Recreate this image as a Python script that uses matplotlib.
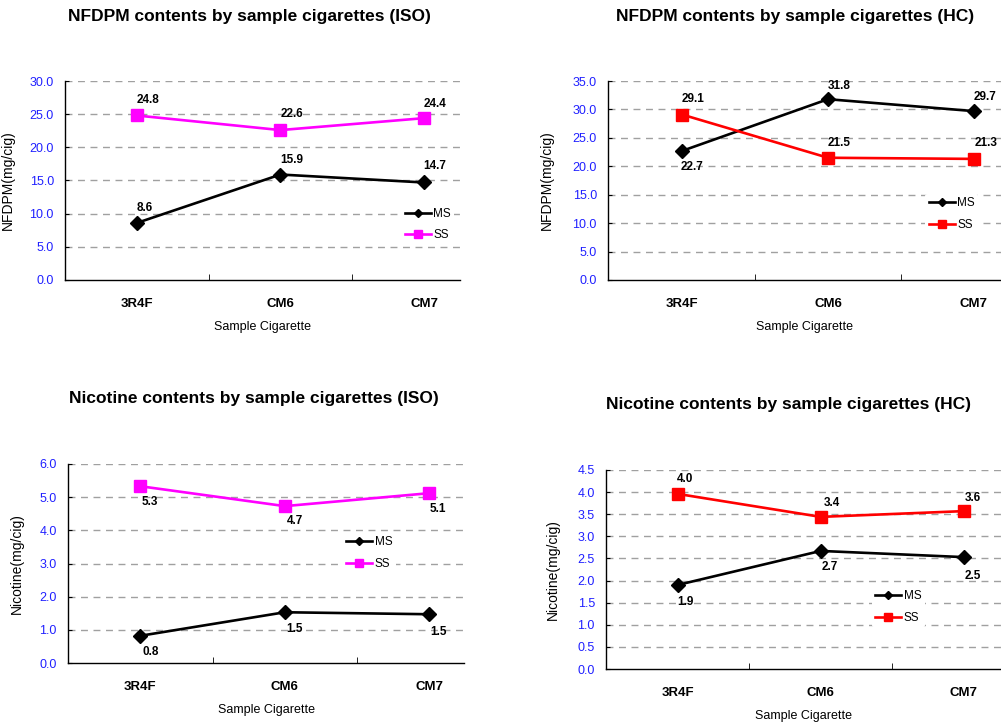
import numpy as np
import matplotlib.pyplot as plt

plt.rcParams['font.family'] = ['Liberation Sans', 'DejaVu Sans']

# sample cigarettes
categories = ['3R4F', 'CM6', 'CM7']

# NFDPM (mg/cig)
nfdpm_iso_ms = [8.6, 15.9, 14.7]
nfdpm_iso_ss = [24.8, 22.6, 24.4]
nfdpm_hc_ms = [22.7, 31.8, 29.7]
nfdpm_hc_ss = [29.1, 21.5, 21.3]

# Nicotine (mg/cig)
nic_iso_ms = [0.82, 1.53, 1.47]
nic_iso_ss = [5.33, 4.73, 5.12]
nic_hc_ms = [1.90, 2.67, 2.53]
nic_hc_ss = [3.96, 3.44, 3.57]

BLUE = '#2020ff'
W, H = 1001, 723


def draw_panel(rect, title, title_xy, ms, ss, ss_color, ylabel, ymax, ystep,
               xlim, ylab_dx, leg_xy, ms_off, ss_off):
    ax = fig.add_axes([rect[0] / W, 1 - rect[3] / H,
                       (rect[2] - rect[0]) / W, (rect[3] - rect[1]) / H])
    x = np.arange(len(categories))
    ax.plot(x, ms, color='black', lw=1.9, marker='D', ms=7, label='MS', zorder=3)
    ax.plot(x, ss, color=ss_color, lw=1.9, marker='s', ms=8.5, label='SS', zorder=3)

    for xi, v, off in zip(x, ms, ms_off):
        ax.annotate(f'{v:.1f}', (xi, v), xytext=off, textcoords='offset pixels',
                    ha='center', va='center', fontsize=8.5, fontweight='bold')
    for xi, v, off in zip(x, ss, ss_off):
        ax.annotate(f'{v:.1f}', (xi, v), xytext=off, textcoords='offset pixels',
                    ha='center', va='center', fontsize=8.5, fontweight='bold')

    ax.set_xlim(*xlim)
    ax.set_ylim(0, ymax)
    yt = np.arange(0, ymax + ystep / 2, ystep)
    ax.set_yticks(yt)
    ax.set_yticklabels([f'{t:.1f}' for t in yt])
    for t in yt[1:]:
        ax.axhline(t, color='#a0a0a0', lw=1, dashes=(5, 4), zorder=1)

    ax.set_xticks(x)
    ax.set_xticklabels(categories, fontsize=9.5, fontweight='bold')
    ax.set_xticks([0.5, 1.5], minor=True)
    ax.tick_params(axis='x', which='major', length=0, pad=13)
    ax.tick_params(axis='x', which='minor', direction='in', length=4, color='black')
    ax.tick_params(axis='y', direction='in', length=3, labelcolor=BLUE,
                   labelsize=9, pad=8)

    for s in ['top', 'right']:
        ax.spines[s].set_visible(False)
    for s in ['left', 'bottom']:
        ax.spines[s].set_linewidth(1)

    ax.set_xlabel('Sample Cigarette', fontsize=9, labelpad=8)
    ax.set_ylabel(ylabel, fontsize=10)
    ax.yaxis.set_label_coords(-ylab_dx / (rect[2] - rect[0]), 0.5)

    leg = ax.legend(loc='center left', bbox_to_anchor=leg_xy, frameon=True,
                    fontsize=8.5, markerscale=0.6, handlelength=2.2,
                    handletextpad=0.2, labelspacing=0.8, borderpad=0.3,
                    borderaxespad=0)
    leg.get_frame().set_facecolor('white')
    leg.get_frame().set_edgecolor('none')
    leg.get_frame().set_alpha(1)

    fig.text(title_xy[0] / W, 1 - title_xy[1] / H, title, ha='center',
             va='center', fontsize=12.5, fontweight='bold')
    return ax


fig = plt.figure(figsize=(10.01, 7.23), dpi=100)

draw_panel((65, 81, 460, 280), 'NFDPM contents by sample cigarettes (ISO)', (249, 16),
           nfdpm_iso_ms, nfdpm_iso_ss, '#ff00ff', 'NFDPM(mg/cig)', 30, 5,
           (-0.5, 2.25), 50, (0.851, 0.279),
           [(8, 15), (11, 15), (11, 16)], [(11, 15), (11, 16), (11, 14)])

draw_panel((608, 81, 1001, 280), 'NFDPM contents by sample cigarettes (HC)', (795, 16),
           nfdpm_hc_ms, nfdpm_hc_ss, '#ff0000', 'NFDPM(mg/cig)', 35, 5,
           (-0.507, 2.185), 54, (0.807, 0.332),
           [(10, -16), (11, 13), (11, 14)], [(11, 16), (11, 15), (12, 16)])

draw_panel((68, 464, 464, 663), 'Nicotine contents by sample cigarettes (ISO)', (254, 398),
           nic_iso_ms, nic_iso_ss, '#ff00ff', 'Nicotine(mg/cig)', 6, 1,
           (-0.5, 2.24), 44, (0.694, 0.553),
           [(10, -16), (10, -17), (9, -18)], [(10, -16), (10, -15), (9, -16)])

draw_panel((606, 470, 1001, 669), 'Nicotine contents by sample cigarettes (HC)', (789, 405),
           nic_hc_ms, nic_hc_ss, '#ff0000', 'Nicotine(mg/cig)', 4.5, 0.5,
           (-0.5, 2.26), 46, (0.673, 0.312),
           [(8, -17), (9, -16), (9, -19)], [(8, 15), (11, 14), (9, 13)])

fig.savefig('out.png', dpi=100)
